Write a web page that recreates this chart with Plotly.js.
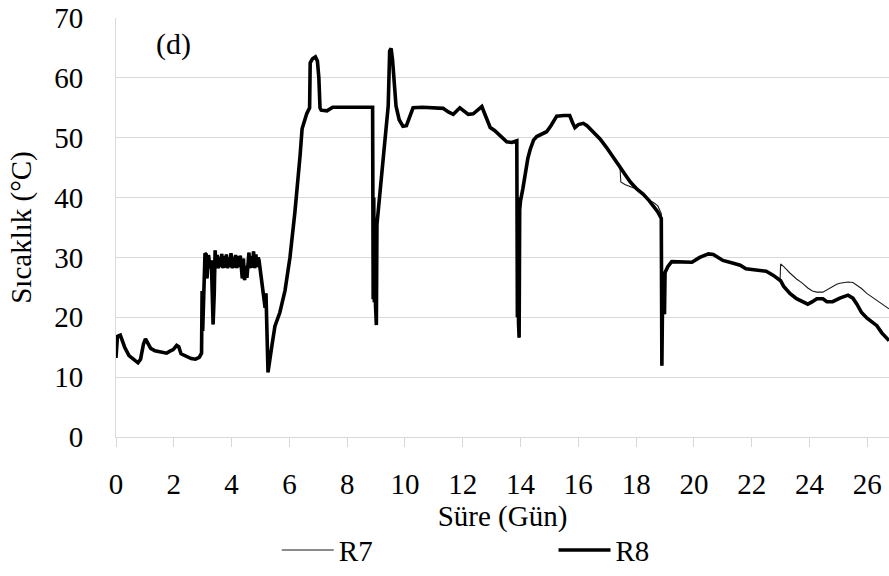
<!DOCTYPE html>
<html>
<head>
<meta charset="utf-8">
<script src="https://cdn.plot.ly/plotly-3.0.1.min.js"></script>
</head>
<body style="margin:0; background:#ffffff">
<div id="chart"></div>
<script>
// Reactor temperature over time (days). R7 and R8 follow the same record
// up to day 17.3, so that part is stored once.
const sharedDay = [
  0, 0.05, 0.15, 0.3, 0.45, 0.6, 0.76, 0.85, 0.95, 1.02,
  1.1, 1.2, 1.35, 1.5, 1.75, 1.85, 1.98, 2.1, 2.17, 2.25,
  2.4, 2.6, 2.75, 2.88, 2.96, 2.98, 3.0, 3.04, 3.08, 3.12,
  3.15, 3.2, 3.26, 3.3, 3.36, 3.4, 3.43, 3.47, 3.5, 3.54,
  3.58, 3.62, 3.66, 3.7, 3.74, 3.78, 3.82, 3.86, 3.9, 3.94,
  3.98, 4.02, 4.06, 4.1, 4.14, 4.18, 4.22, 4.26, 4.3, 4.34,
  4.37, 4.41, 4.45, 4.5, 4.53, 4.56, 4.6, 4.64, 4.68, 4.72,
  4.76, 4.8, 4.84, 4.88, 4.92, 4.95, 5.09, 5.16, 5.19, 5.26,
  5.4, 5.5, 5.67, 5.78, 5.85, 6.02, 6.19, 6.37, 6.44, 6.6,
  6.7, 6.72, 6.8, 6.9, 6.97, 7.02, 7.06, 7.1, 7.3, 7.5,
  8.0, 8.5, 8.88, 8.9, 8.92, 8.94, 8.96, 8.98, 9.01, 9.03,
  9.2, 9.3, 9.42, 9.47, 9.52, 9.57, 9.62, 9.69, 9.8, 9.93,
  10.05, 10.15, 10.28, 10.6, 11.0, 11.32, 11.5, 11.67, 11.9, 12.05,
  12.19, 12.36, 12.5, 12.66, 12.8, 12.95, 13.1, 13.29, 13.52, 13.7,
  13.87, 13.89, 13.91, 13.93, 13.95, 13.97, 14.0, 14.08, 14.15, 14.25,
  14.33, 14.45, 14.56, 14.7, 14.9, 15.05, 15.25, 15.5, 15.7, 15.8,
  15.88, 16.0, 16.17, 16.3, 16.5, 16.75, 16.97, 17.15, 17.32
];
const sharedTemp = [
  13.2, 16.8, 17.0, 15.0, 13.6, 13.0, 12.4, 13.0, 15.5, 16.4,
  15.6, 14.8, 14.4, 14.3, 14.0, 14.3, 14.6, 15.3, 15.1, 13.9,
  13.5, 13.1, 13.0, 13.3, 14.0, 24.4, 17.7, 27.0, 30.7, 30.5,
  26.5, 30.4, 28.2, 29.5, 18.8, 24.0, 31.2, 28.3, 30.4, 28.2,
  30.1, 28.4, 30.6, 28.2, 30.2, 28.3, 30.5, 28.2, 30.0, 28.4,
  30.7, 28.2, 30.1, 28.3, 30.4, 28.2, 30.2, 28.4, 30.3, 28.2,
  26.5, 29.8, 26.2, 28.6, 26.6, 28.3, 30.8, 28.2, 30.2, 28.3,
  31.0, 28.2, 30.5, 28.4, 30.0, 29.5, 24.4, 21.6, 24.0, 10.8,
  15.4, 18.5, 20.8, 22.9, 24.5, 30.0, 37.5, 47.0, 51.5, 54.0,
  55.0, 62.5, 63.2, 63.5, 62.8, 60.0, 55.0, 54.6, 54.5, 55.1,
  55.1, 55.1, 55.1, 23.0, 40.0, 22.5, 36.0, 22.0, 18.7, 35.5,
  44.0, 49.0, 55.3, 64.5, 64.9, 63.0, 59.0, 55.3, 53.0, 51.9,
  52.0, 53.5, 55.0, 55.1, 55.0, 54.9, 54.3, 53.9, 55.0, 54.4,
  53.9, 54.0, 54.5, 55.2, 53.5, 51.7, 51.2, 50.4, 49.3, 49.2,
  49.5, 20.0, 40.0, 19.0, 16.6, 38.0, 39.5, 41.5, 43.6, 46.5,
  48.0, 49.6, 50.2, 50.6, 51.0, 52.0, 53.6, 53.7, 53.7, 52.5,
  51.7, 52.2, 52.4, 52.0, 51.1, 49.8, 48.4, 47.2, 46.1
];

// From day 17.4 on the two reactors are listed separately.
const tailDay = [
  17.44, 17.47, 17.61, 17.8, 18.03, 18.24, 18.45, 18.6, 18.75, 18.87,
  18.89, 18.92, 18.94, 18.96, 18.98, 19.0, 19.03, 19.1, 19.23, 19.52,
  19.93, 20.2, 20.5, 20.67, 21.0, 21.3, 21.6, 21.8, 22.2, 22.5,
  22.75, 22.98, 23.0, 23.1, 23.32, 23.55, 23.75, 23.94, 24.1, 24.25,
  24.46, 24.6, 24.8, 24.94, 25.05, 25.33, 25.5, 25.64, 25.8, 25.98,
  26.15, 26.33, 26.5, 26.75
];
const r7Tail = [
  45.1, 42.6, 42.2, 41.8, 41.4, 40.6, 39.5, 39.2, 38.6, 37.3,
  11.9, 26.0, 20.5, 27.0, 20.5, 27.5, 27.8, 28.5, 29.3, 29.2,
  29.2, 30.0, 30.6, 30.5, 29.5, 29.1, 28.7, 28.1, 27.9, 27.7,
  27.0, 26.2, 28.9, 28.5, 27.4, 26.4, 25.7, 24.9, 24.4, 24.2,
  24.2, 24.6, 25.1, 25.5, 25.7, 25.9, 25.8, 25.4, 24.8, 24.0,
  23.4, 22.8, 22.3, 21.4
];
const r8Tail = [
  45.2, 44.9, 43.9, 42.6, 41.4, 40.6, 39.5, 38.5, 37.6, 36.5,
  11.9, 26.0, 20.5, 27.0, 20.5, 27.5, 27.8, 28.5, 29.3, 29.2,
  29.2, 30.0, 30.6, 30.5, 29.5, 29.1, 28.7, 28.1, 27.9, 27.7,
  27.0, 26.2, 26.1, 25.2, 24.0, 23.1, 22.7, 22.2, 22.6, 23.1,
  23.1, 22.6, 22.6, 23.0, 23.2, 23.7, 23.2, 22.2, 20.8, 19.9,
  19.2, 18.6, 17.4, 16.1
];

const seriesNames = ['R7', 'R8'];
const xTicks = [0, 2, 4, 6, 8, 10, 12, 14, 16, 18, 20, 22, 24, 26];
const yTicks = [0, 10, 20, 30, 40, 50, 60, 70];

const grid = '#d9d9d9';
function textFont(size) {
  return { family: 'Times New Roman', size: size };
}

const days = sharedDay.concat(tailDay);

const traces = [
  {
    x: days,
    y: sharedTemp.concat(r7Tail),
    name: seriesNames[0],
    legend: 'legend',
    type: 'scatter',
    mode: 'lines',
    line: { color: '#1a1a1a', width: 1.1 }
  },
  {
    x: days,
    y: sharedTemp.concat(r8Tail),
    name: seriesNames[1],
    legend: 'legend2',
    type: 'scatter',
    mode: 'lines',
    line: { color: '#000000', width: 3.6 }
  }
];

const legendBase = {
  orientation: 'h',
  xanchor: 'left',
  y: -0.27,
  yanchor: 'middle',
  itemwidth: 52,
  font: textFont(29),
  bgcolor: 'rgba(0,0,0,0)'
};

const layout = {
  width: 889,
  height: 576,
  margin: { l: 116, r: 0, t: 18, b: 136 },
  paper_bgcolor: '#ffffff',
  plot_bgcolor: '#ffffff',
  font: { color: '#000000' },
  showlegend: true,
  xaxis: {
    range: [0, 26.75],
    tickvals: xTicks,
    ticktext: xTicks.map(String),
    ticks: 'outside',
    ticklen: 9,
    tickcolor: grid,
    tickwidth: 1,
    showline: true,
    linecolor: grid,
    linewidth: 1,
    showgrid: false,
    zeroline: false,
    ticklabelstandoff: 12,
    tickfont: textFont(29),
    title: { text: 'Süre (Gün)', font: textFont(29), standoff: 6 }
  },
  yaxis: {
    range: [0, 70],
    tickvals: yTicks,
    ticktext: yTicks.map(String),
    ticks: '',
    showline: true,
    linecolor: grid,
    linewidth: 1,
    showgrid: true,
    gridcolor: grid,
    gridwidth: 1,
    zeroline: false,
    ticklabelstandoff: 26,
    tickfont: textFont(29),
    title: { text: 'Sıcaklık (°C)', font: textFont(29), standoff: 14 }
  },
  legend: Object.assign({}, legendBase, { x: 0.208 }),
  legend2: Object.assign({}, legendBase, { x: 0.566 }),
  annotations: [
    {
      text: '(d)',
      xref: 'paper',
      yref: 'paper',
      x: 0.074,
      y: 0.938,
      xanchor: 'center',
      yanchor: 'middle',
      showarrow: false,
      font: textFont(30)
    }
  ]
};

Plotly.newPlot('chart', traces, layout, { displayModeBar: false });
</script>
</body>
</html>
